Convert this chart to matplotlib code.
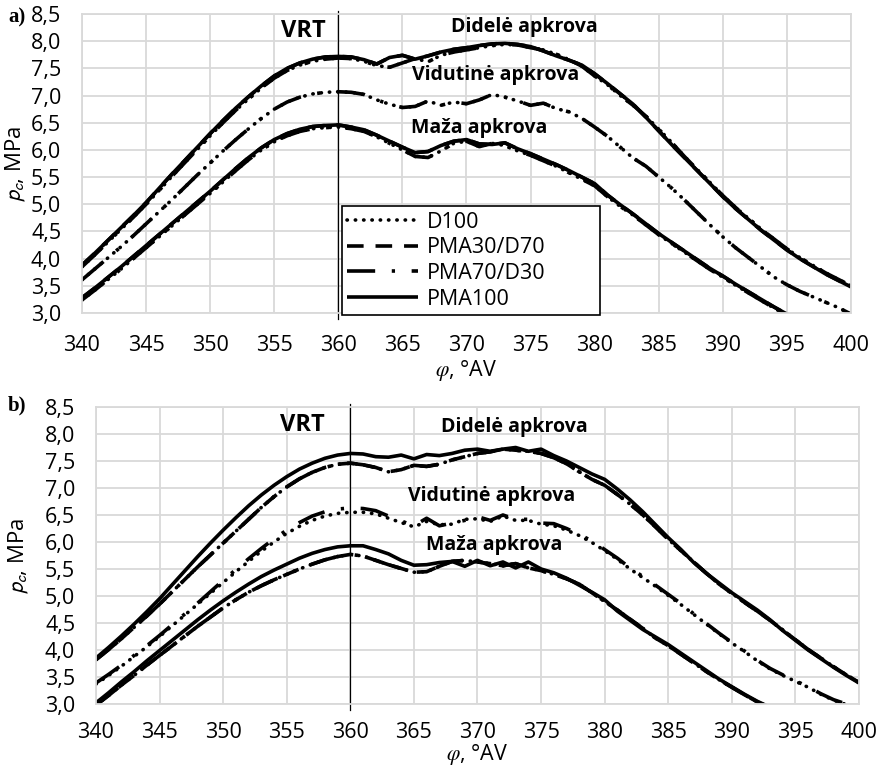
import numpy as np
import matplotlib.pyplot as plt

plt.rcParams['font.family'] = ['Open Sans', 'DejaVu Sans']

# crank angle, deg
angles = np.arange(340, 401)
vrt_angle = 360
fuels = ["D100", "PMA30/D70", "PMA70/D30", "PMA100"]
yticks = [3.0, 3.5, 4.0, 4.5, 5.0, 5.5, 6.0, 6.5, 7.0, 7.5, 8.0, 8.5]
xticks = [340, 345, 350, 355, 360, 365, 370, 375, 380, 385, 390, 395, 400]

# ---- a) cylinder pressure, MPa ----
a_high_main = [3.88, 4.10, 4.33, 4.56, 4.79, 5.03, 5.29, 5.55, 5.80, 6.05, 6.30, 6.54, 6.77, 6.98, 7.18, 7.36, 7.50, 7.60, 7.67, 7.71, 7.72,
               7.71, 7.66, 7.58, 7.70, 7.74, 7.67, 7.73, 7.80, 7.85, 7.88, 7.92, 7.95, 7.96, 7.94, 7.90, 7.82, 7.73, 7.65, 7.56, 7.40,
               7.22, 7.03, 6.84, 6.60, 6.35, 6.10, 5.86, 5.62, 5.38, 5.14, 4.92, 4.72, 4.52, 4.34, 4.16, 4.00, 3.86, 3.72, 3.60, 3.48]
a_high_alt = [3.85, 4.07, 4.30, 4.53, 4.76, 5.00, 5.25, 5.51, 5.76, 6.01, 6.26, 6.50, 6.73, 6.94, 7.14, 7.32, 7.46, 7.56, 7.63, 7.67, 7.69,
              7.68, 7.63, 7.55, 7.52, 7.60, 7.68, 7.62, 7.74, 7.80, 7.84, 7.88, 7.92, 7.94, 7.93, 7.88, 7.84, 7.76, 7.66, 7.54, 7.36,
              7.20, 7.00, 6.82, 6.62, 6.38, 6.14, 5.88, 5.64, 5.40, 5.16, 4.94, 4.74, 4.54, 4.36, 4.18, 4.02, 3.88, 3.74, 3.62, 3.50]
a_mid = [3.61, 3.81, 4.01, 4.21, 4.42, 4.64, 4.86, 5.08, 5.31, 5.54, 5.76, 5.98, 6.19, 6.39, 6.58, 6.75, 6.88, 6.97, 7.03, 7.06, 7.07,
         7.06, 7.02, 6.92, 6.84, 6.78, 6.80, 6.90, 6.82, 6.88, 6.85, 6.92, 7.02, 6.97, 6.90, 6.82, 6.86, 6.76, 6.70, 6.58, 6.42,
         6.25, 6.05, 5.85, 5.70, 5.50, 5.30, 5.08, 4.85, 4.62, 4.40, 4.20, 4.02, 3.84, 3.66, 3.52, 3.40, 3.30, 3.20, 3.10, 2.98]
a_low_main = [3.28, 3.46, 3.65, 3.84, 4.04, 4.24, 4.44, 4.64, 4.84, 5.04, 5.24, 5.45, 5.66, 5.86, 6.04, 6.19, 6.30, 6.38, 6.43, 6.45, 6.46,
              6.42, 6.37, 6.27, 6.16, 6.05, 5.95, 5.97, 6.08, 6.16, 6.19, 6.11, 6.10, 6.13, 6.02, 5.93, 5.83, 5.73, 5.62, 5.50, 5.38,
              5.17, 4.99, 4.82, 4.64, 4.46, 4.30, 4.14, 3.98, 3.82, 3.68, 3.53, 3.39, 3.25, 3.11, 2.98, 2.86, 2.74, 2.62, 2.50, 2.40]
a_low_alt = [3.24, 3.42, 3.61, 3.80, 4.00, 4.20, 4.40, 4.60, 4.80, 5.00, 5.20, 5.41, 5.62, 5.82, 6.00, 6.15, 6.26, 6.34, 6.39, 6.41, 6.42,
             6.39, 6.34, 6.24, 6.12, 6.00, 5.88, 5.86, 5.98, 6.12, 6.16, 6.06, 6.12, 6.08, 5.98, 5.90, 5.80, 5.70, 5.58, 5.46, 5.34,
             5.14, 4.96, 4.80, 4.62, 4.44, 4.28, 4.12, 3.96, 3.80, 3.66, 3.51, 3.37, 3.23, 3.09, 2.96, 2.84, 2.72, 2.60, 2.48, 2.38]

# ---- b) cylinder pressure, MPa ----
b_high_pma100 = [3.85, 4.05, 4.26, 4.48, 4.71, 4.95, 5.21, 5.47, 5.73, 5.98, 6.22, 6.45, 6.67, 6.87, 7.05, 7.21, 7.35, 7.46, 7.55, 7.61, 7.64,
                 7.63, 7.58, 7.57, 7.61, 7.54, 7.62, 7.60, 7.64, 7.70, 7.72, 7.68, 7.72, 7.75, 7.68, 7.72, 7.60, 7.50, 7.38, 7.26, 7.16,
                 6.98, 6.78, 6.56, 6.32, 6.08, 5.86, 5.62, 5.42, 5.24, 5.06, 4.90, 4.74, 4.56, 4.36, 4.18, 4.00, 3.84, 3.68, 3.53, 3.39]
b_high_other = [3.82, 4.01, 4.21, 4.42, 4.63, 4.85, 5.08, 5.31, 5.54, 5.76, 5.98, 6.20, 6.42, 6.64, 6.84, 7.02, 7.17, 7.29, 7.38, 7.44, 7.46,
                7.43, 7.38, 7.30, 7.34, 7.42, 7.40, 7.44, 7.52, 7.58, 7.64, 7.67, 7.72, 7.70, 7.68, 7.64, 7.56, 7.45, 7.30, 7.16, 7.05,
                6.88, 6.70, 6.50, 6.28, 6.05, 5.84, 5.63, 5.42, 5.22, 5.05, 4.88, 4.72, 4.55, 4.37, 4.19, 4.01, 3.85, 3.69, 3.54, 3.40]
b_mid_pma70 = [3.39, 3.55, 3.72, 3.90, 4.08, 4.27, 4.47, 4.67, 4.87, 5.08, 5.29, 5.49, 5.69, 5.88, 6.06, 6.22, 6.36, 6.48, 6.56, 6.61, 6.63,
               6.62, 6.58, 6.48, 6.39, 6.30, 6.44, 6.30, 6.35, 6.40, 6.47, 6.40, 6.50, 6.42, 6.42, 6.35, 6.34, 6.25, 6.14, 6.02, 5.86,
               5.70, 5.52, 5.36, 5.20, 5.03, 4.86, 4.67, 4.49, 4.31, 4.14, 3.98, 3.81, 3.66, 3.54, 3.43, 3.32, 3.19, 3.08, 3.00, 2.92]
b_mid_d100 = [3.37, 3.53, 3.70, 3.88, 4.06, 4.25, 4.45, 4.65, 4.85, 5.05, 5.25, 5.45, 5.64, 5.83, 6.00, 6.16, 6.29, 6.40, 6.48, 6.53, 6.55,
              6.55, 6.52, 6.44, 6.36, 6.28, 6.38, 6.32, 6.33, 6.42, 6.43, 6.38, 6.48, 6.40, 6.40, 6.33, 6.30, 6.22, 6.12, 5.99, 5.84,
              5.68, 5.50, 5.34, 5.18, 5.01, 4.84, 4.66, 4.48, 4.30, 4.13, 3.97, 3.80, 3.65, 3.53, 3.42, 3.31, 3.18, 3.07, 2.99, 2.91]
b_low_pma100 = [3.02, 3.21, 3.41, 3.60, 3.80, 3.99, 4.18, 4.37, 4.56, 4.74, 4.91, 5.07, 5.22, 5.36, 5.48, 5.59, 5.70, 5.79, 5.86, 5.91, 5.93,
                5.93, 5.86, 5.78, 5.66, 5.57, 5.58, 5.62, 5.64, 5.55, 5.66, 5.56, 5.63, 5.52, 5.63, 5.50, 5.43, 5.33, 5.20, 5.07, 4.93,
                4.72, 4.55, 4.38, 4.24, 4.10, 3.94, 3.78, 3.62, 3.46, 3.32, 3.18, 3.05, 2.94, 2.83, 2.72, 2.62, 2.52, 2.43, 2.34, 2.25]
b_low_other = [2.98, 3.16, 3.35, 3.53, 3.72, 3.90, 4.08, 4.26, 4.44, 4.61, 4.78, 4.93, 5.07, 5.19, 5.30, 5.40, 5.50, 5.59, 5.67, 5.73, 5.77,
               5.74, 5.66, 5.58, 5.51, 5.44, 5.45, 5.55, 5.64, 5.66, 5.63, 5.60, 5.56, 5.60, 5.52, 5.47, 5.40, 5.32, 5.22, 5.06, 4.90,
               4.74, 4.57, 4.40, 4.22, 4.08, 3.92, 3.76, 3.60, 3.45, 3.31, 3.17, 3.04, 2.93, 2.82, 2.71, 2.61, 2.51, 2.42, 2.33, 2.24]

# which array each fuel uses, per load group
series_a = [
    {"D100": a_high_alt, "PMA30/D70": a_high_main, "PMA70/D30": a_high_alt, "PMA100": a_high_main},
    {"D100": a_mid, "PMA70/D30": a_mid},
    {"D100": a_low_alt, "PMA30/D70": a_low_main, "PMA70/D30": a_low_alt, "PMA100": a_low_main},
]
series_b = [
    {"D100": b_high_other, "PMA30/D70": b_high_other, "PMA70/D30": b_high_other, "PMA100": b_high_pma100},
    {"D100": b_mid_d100, "PMA70/D30": b_mid_pma70},
    {"D100": b_low_other, "PMA30/D70": b_low_other, "PMA70/D30": b_low_other, "PMA100": b_low_pma100},
]

LW = 2.6
styles = {
    "D100": dict(linestyle=(0, (0.1, 2.2)), dash_capstyle="round"),
    "PMA30/D70": dict(linestyle=(0, (4.6, 3.3)), dash_capstyle="butt"),
    "PMA70/D30": dict(linestyle=(0, (7.8, 4.6, 0.9, 4.6)), dash_capstyle="butt"),
    "PMA100": dict(linestyle="-", solid_capstyle="butt"),
}
FS = 15.5

fig = plt.figure(figsize=(8.8, 7.69), dpi=100)
ax_a = fig.add_axes([82 / 880, 1 - 313 / 769, 769 / 880, 299 / 769])
ax_b = fig.add_axes([96 / 880, 1 - 704 / 769, 763 / 880, 297 / 769])


def setup(ax, groups, ylab_x, xpad, lpad):
    handles = {}
    for grp in groups:
        for f in fuels:
            if f in grp:
                ln, = ax.plot(angles, grp[f], color="black", lw=LW, label=f, **styles[f])
                handles.setdefault(f, ln)
    ax.set_xlim(340, 400)
    ax.set_ylim(3.0, 8.5)
    ax.set_xticks(xticks)
    ax.set_yticks(yticks)
    ax.set_yticklabels([f"{v:.1f}".replace(".", ",") for v in yticks])
    ax.tick_params(length=0, labelsize=FS, pad=15)
    ax.tick_params(axis="x", pad=xpad)
    ax.grid(True, color="#d9d9d9", lw=1.3)
    ax.set_axisbelow(True)
    for s in ax.spines.values():
        s.set_color("#d9d9d9")
        s.set_linewidth(1.3)
    ax.axvline(vrt_angle, ymin=-0.02, ymax=1.01, color="black", lw=0.9, clip_on=False)
    ax.set_xlabel(r"$\varphi$, °AV", fontsize=FS, labelpad=lpad, math_fontfamily="stix")
    ax.set_ylabel(r"$p_c$, MPa", fontsize=FS + 0.5, math_fontfamily="stixsans")
    ax.yaxis.set_label_coords(ylab_x, 0.5)
    return handles


h = setup(ax_a, series_a, -0.07, 16, 1)
setup(ax_b, series_b, -0.085, 13, -1)

bold = dict(fontsize=14, fontweight="bold", ha="center", va="center")
ax_a.text(357.3, 8.19, "VRT", **{**bold, "fontsize": 17})
ax_a.text(374.5, 8.26, "Didelė apkrova", **bold)
ax_a.text(372.3, 7.38, "Vidutinė apkrova", **bold)
ax_a.text(371.0, 6.40, "Maža apkrova", **bold)
ax_b.text(356.2, 8.17, "VRT", **{**bold, "fontsize": 17})
ax_b.text(372.9, 8.13, "Didelė apkrova", **bold)
ax_b.text(371.1, 6.85, "Vidutinė apkrova", **bold)
ax_b.text(371.3, 5.94, "Maža apkrova", **bold)

fig.text(8 / 880, 1 - 17 / 769, "a)", fontsize=15, fontweight="bold", family="Liberation Serif", va="center")
fig.text(8 / 880, 1 - 405 / 769, "b)", fontsize=15, fontweight="bold", family="Liberation Serif", va="center")

leg = ax_a.legend([h[f] for f in fuels], fuels, loc="lower left",
                  bbox_to_anchor=(0.338, -0.007, 0.336, 0.378), mode="expand",
                  fontsize=FS, handlelength=3.3, handletextpad=0.4,
                  labelspacing=0.22, borderpad=0.25, borderaxespad=0,
                  fancybox=False, framealpha=1, edgecolor="black")
leg.get_frame().set_linewidth(1.2)
leg.set_zorder(5)

fig.savefig("out.png", dpi=100)
